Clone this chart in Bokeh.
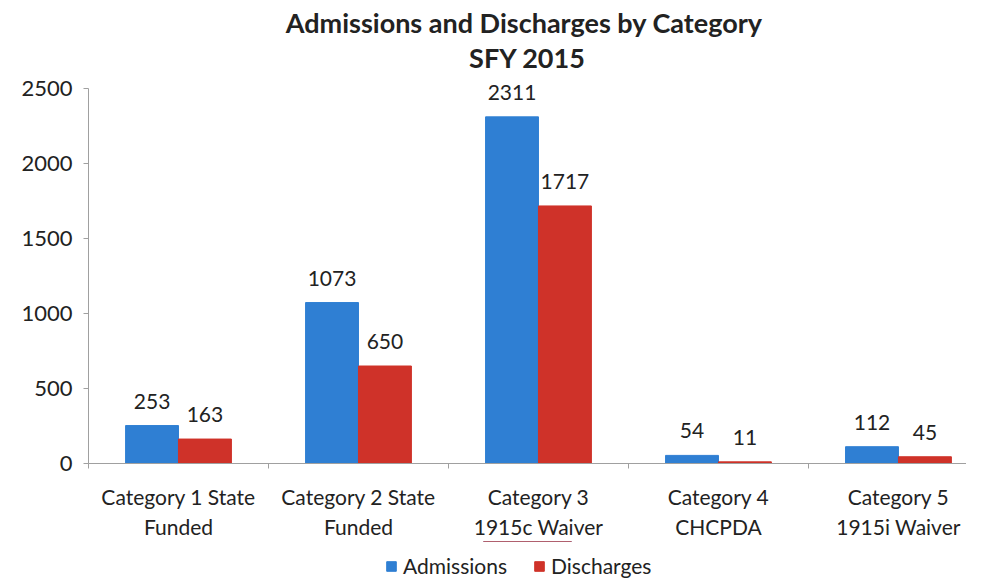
from bokeh.plotting import figure
from bokeh.layouts import column
from bokeh.models import (Range1d, FixedTicker, ColumnDataSource, Legend, LegendItem, Title)
from bokeh.core.properties import value
from bokeh.embed import file_html
from bokeh.resources import INLINE

categories = ["Category 1 State\nFunded", "Category 2 State\nFunded", "Category 3\n1915c Waiver",
              "Category 4\nCHCPDA", "Category 5\n1915i Waiver"]
admissions = [253, 1073, 2311, 54, 112]
discharges = [163, 650, 1717, 11, 45]
y_ticks = [0, 500, 1000, 1500, 2000, 2500]
series_names = ["Admissions", "Discharges"]

FONT = "Lato"
BLUE = "#2f7fd3"
RED = "#cf3229"

centers = [i + 0.5 for i in range(len(categories))]
bounds = [i for i in range(len(categories) + 1)]
off = 0.147
w = 0.294

src_a = ColumnDataSource(dict(x=[c - off for c in centers], top=admissions,
                              lab=[str(v) for v in admissions]))
src_d = ColumnDataSource(dict(x=[c + off for c in centers], top=discharges,
                              lab=[str(v) for v in discharges]))

p = figure(width=966, height=541, output_backend="svg", toolbar_location=None,
           x_range=Range1d(0, 4.878), y_range=Range1d(0, 2600),
           min_border_left=88, min_border_right=0, min_border_top=73, min_border_bottom=0)
p.outline_line_color = None
p.grid.grid_line_color = None
p.background_fill_color = "white"

t2 = Title(text="SFY 2015", align="center", text_font=FONT, text_font_size="27px",
           text_font_style="bold", text_color="#222222", standoff=0)
t1 = Title(text="Admissions and Discharges  by Category", align="center", text_font=FONT,
           text_font_size="27px", text_font_style="bold", text_color="#222222", standoff=0)
p.add_layout(t2, "above")
p.add_layout(t1, "above")

p.vbar(x="x", top="top", width=w, source=src_a, color=BLUE)
p.vbar(x="x", top="top", width=w, source=src_d, color=RED)

for s in (src_a, src_d):
    p.text(x="x", y="top", text="lab", source=s, text_align="center", text_baseline="bottom",
           y_offset=-17, text_font=value(FONT), text_font_size="21px", text_color="#222222")

ya = p.yaxis[0]
ya.ticker = FixedTicker(ticks=y_ticks)
ya.bounds = (0, 2500)
ya.major_label_text_font = FONT
ya.major_label_text_font_size = "22px"
ya.major_label_text_color = "#222222"
ya.axis_line_color = "#a0a0a0"
ya.major_tick_line_color = "#a0a0a0"
ya.major_tick_in = 0
ya.major_tick_out = 5
ya.minor_tick_line_color = None
ya.major_label_standoff = 11

xa = p.xaxis[0]
xa.ticker = FixedTicker(ticks=centers, minor_ticks=bounds)
xa.major_label_overrides = {c: lab for c, lab in zip(centers, categories)}
xa.major_tick_line_color = None
xa.minor_tick_line_color = "#a0a0a0"
xa.minor_tick_in = 0
xa.minor_tick_out = 5
xa.axis_line_color = "#a0a0a0"
xa.major_label_text_font = FONT
xa.major_label_text_font_size = "21px"
xa.major_label_text_color = "#222222"
xa.major_label_standoff = 14

# legend strip below the chart
p2 = figure(width=966, height=41, output_backend="svg", toolbar_location=None,
            x_range=Range1d(0, 1), y_range=Range1d(0, 1), min_border=0)
p2.axis.visible = False
p2.grid.grid_line_color = None
p2.outline_line_color = None
# zero-height, off-range bars: only their legend swatches show
la = p2.vbar(x=[centers[0]], top=[admissions[0]], bottom=[admissions[0]], width=0.1, color=BLUE)
ld = p2.vbar(x=[centers[0]], top=[discharges[0]], bottom=[discharges[0]], width=0.1, color=RED)
legend = Legend(items=[LegendItem(label=series_names[0], renderers=[la]),
                       LegendItem(label=series_names[1], renderers=[ld])],
                orientation="horizontal", location=(297, 4),
                label_text_font=FONT, label_text_font_size="21px", label_text_color="#222222",
                label_height=20, glyph_width=12, glyph_height=12, spacing=26, label_standoff=6,
                border_line_color=None, background_fill_alpha=0, padding=0, margin=0)
p2.add_layout(legend, "center")

layout = column(p, p2, spacing=0)
open("out.html", "w").write(file_html(layout, INLINE))
